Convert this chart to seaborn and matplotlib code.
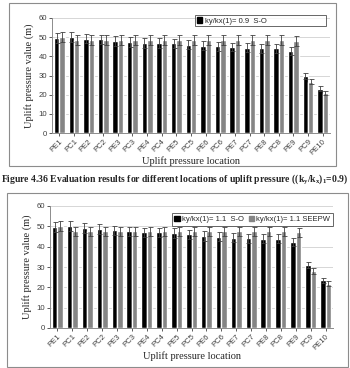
import pandas as pd
import matplotlib
matplotlib.use("Agg")
import matplotlib.pyplot as plt
from matplotlib.patches import Rectangle, Patch
import seaborn as sns

# data
locations = ['PE1', 'PC1', 'PE2', 'PC2', 'PE3', 'PC3', 'PE4', 'PC4', 'PE5', 'PC5',
             'PE6', 'PC6', 'PE7', 'PC7', 'PE8', 'PC8', 'PE9', 'PC9', 'PE10']

top_so = [49.5, 50.0, 49.3, 48.8, 48.0, 47.5, 47.0, 47.0, 46.8, 46.0,
          45.5, 45.2, 44.8, 44.5, 44.2, 44.2, 42.8, 29.8, 23.2]
top_other = [50.0, 48.5, 48.5, 48.5, 48.5, 48.5, 48.5, 48.5, 48.5, 48.5,
             48.5, 48.5, 48.5, 48.5, 48.5, 48.5, 48.0, 26.8, 21.0]
top_so_err = [2.5, 2.5, 2.5, 2.4, 2.4, 2.4, 2.4, 2.4, 2.3, 2.3,
              2.3, 2.3, 2.2, 2.2, 2.2, 2.2, 2.1, 1.5, 1.2]
top_other_err = [2.5, 2.4, 2.4, 2.4, 2.4, 2.4, 2.4, 2.4, 2.4, 2.4,
                 2.4, 2.4, 2.4, 2.4, 2.4, 2.4, 2.4, 1.3, 1.0]

bot_so = [49.5, 50.0, 49.3, 48.7, 48.0, 47.5, 47.0, 47.0, 46.7, 46.0,
          45.3, 45.0, 44.3, 44.2, 43.8, 43.8, 42.2, 31.0, 23.5]
bot_seepw = [50.0, 47.5, 47.5, 47.5, 47.5, 47.5, 47.5, 47.5, 47.5, 47.5,
             47.5, 47.5, 47.5, 47.5, 47.5, 47.5, 47.0, 28.2, 21.8]
bot_so_err = [2.5, 2.5, 2.5, 2.4, 2.4, 2.4, 2.4, 2.4, 2.3, 2.3,
              2.3, 2.3, 2.2, 2.2, 2.2, 2.2, 2.1, 1.6, 1.2]
bot_seepw_err = [2.5, 2.4, 2.4, 2.4, 2.4, 2.4, 2.4, 2.4, 2.4, 2.4,
                 2.4, 2.4, 2.4, 2.4, 2.4, 2.4, 2.4, 1.4, 1.1]

top_names = ['ky/kx(1)= 0.9  S-O', 'other']
bot_names = ['ky/kx(1)= 1.1  S-O', 'ky/kx(1)= 1.1 SEEPW']

sns.set_theme(style="white")
plt.rcParams['font.family'] = ['Liberation Sans', 'DejaVu Sans']

fig = plt.figure(figsize=(3.5, 3.68), dpi=100)
W, H = 350, 368


def px_axes(left, top, right, bottom):
    return fig.add_axes([left / W, 1 - bottom / H, (right - left) / W, (bottom - top) / H])


def frame(left, top, right, bottom):
    fig.patches.append(Rectangle((left / W, 1 - bottom / H), (right - left) / W, (bottom - top) / H,
                                 transform=fig.transFigure, fill=False,
                                 edgecolor='#8c8c8c', lw=0.8))


def panel(ax, so, other, so_err, other_err, names, show_second):
    df = pd.DataFrame({
        'loc': locations * 2,
        'val': so + other,
        'series': [names[0]] * len(locations) + [names[1]] * len(locations),
    })
    sns.barplot(data=df, x='loc', y='val', hue='series', palette=['#000000', '#858585'],
                width=0.74, gap=0, legend=False, ax=ax, saturation=1)
    bars = ax.patches[:2 * len(locations)]
    xs = [b.get_x() + b.get_width() / 2 for b in bars]
    ys = [b.get_height() for b in bars]
    ax.errorbar(xs, ys, yerr=so_err + other_err, fmt='none', ecolor='#404040',
                elinewidth=0.6, capsize=1.8, capthick=0.6)
    ax.set_ylim(0, 60)
    ax.set_yticks(range(0, 61, 10))
    ax.set_xlim(-0.5, len(locations) - 0.5)
    ax.yaxis.grid(True, color='#d0d0d0', lw=0.6)
    ax.set_axisbelow(True)
    for s in ['top', 'right']:
        ax.spines[s].set_visible(False)
    for s in ['left', 'bottom']:
        ax.spines[s].set_color('#8c8c8c')
        ax.spines[s].set_linewidth(0.7)
    ax.tick_params(axis='both', labelsize=5.6, colors='#404040', length=2, width=0.6,
                   pad=1.5, left=True, bottom=True)
    ax.set_xticks(range(len(locations)))
    ax.set_xticklabels(locations, rotation=45, ha='right', rotation_mode='anchor')
    ax.set_ylabel('Uplift pressure value (m)', family='Liberation Serif', fontsize=7.5, labelpad=3)
    ax.set_xlabel('Uplift pressure location', family='Liberation Serif', fontsize=7.5, labelpad=0)
    handles = [Patch(color='#000000', label=names[0])]
    if show_second:
        handles.append(Patch(color='#858585', label=names[1]))
    return handles


ax1 = px_axes(52, 18, 330, 133)
h1 = panel(ax1, top_so, top_other, top_so_err, top_other_err, top_names, False)
leg1 = ax1.legend(handles=h1, loc='center', bbox_to_anchor=(0.515, 0.93, 0.47, 0.09),
                  mode='expand', fontsize=5.5, frameon=True, fancybox=False,
                  edgecolor='#404040', handlelength=0.7, handleheight=0.7,
                  handletextpad=0.3, borderpad=0.25, borderaxespad=0)
leg1.get_frame().set_linewidth(0.7)
# shift the single entry toward the middle of the wide box, as in the original
leg1._legend_box.align = 'center'

ax2 = px_axes(50, 206, 333, 328)
h2 = panel(ax2, bot_so, bot_seepw, bot_so_err, bot_seepw_err, bot_names, True)
leg2 = ax2.legend(handles=h2, loc='upper right', bbox_to_anchor=(1.0, 0.94), ncol=2,
                  fontsize=5.5, frameon=True, fancybox=False, edgecolor='#404040',
                  handlelength=0.7, handleheight=0.7, handletextpad=0.3,
                  columnspacing=0.6, borderpad=0.35, borderaxespad=0)
leg2.get_frame().set_linewidth(0.7)

frame(9, 3, 336, 166)
frame(7, 193, 348, 367)

fig.text(175 / W, 1 - 180 / H,
         'Figure 4.36 Evaluation results for different locations of uplift pressure '
         '((k$_\\mathregular{y}$/k$_\\mathregular{x}$)$_\\mathregular{1}$=0.9)',
         ha='center', va='center', family='Liberation Serif', fontweight='bold', fontsize=6.9)

fig.savefig('out.png', dpi=100)
